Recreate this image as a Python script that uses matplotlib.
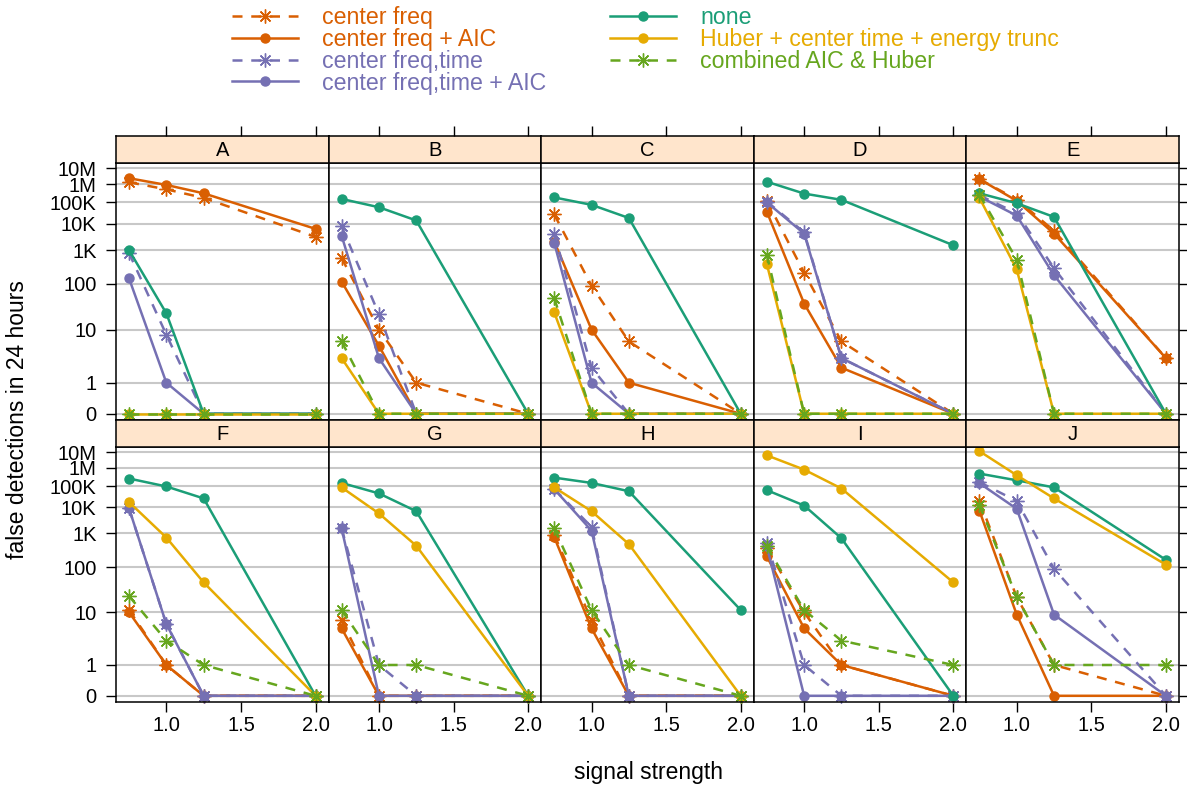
import numpy as np
import matplotlib
matplotlib.use("Agg")
import matplotlib.pyplot as plt
from matplotlib.lines import Line2D

plt.rcParams['font.family'] = ['Liberation Sans', 'DejaVu Sans']

# ---- data ----
panels = ["A", "B", "C", "D", "E", "F", "G", "H", "I", "J"]
strength = [0.75, 1.0, 1.25, 2.0]

center_freq = [
    [1.3e6, 5e5, 1.7e5, 3000], [550, 10, 1, 0], [2.6e4, 90, 6, 0], [1.2e5, 200, 6, 0],
    [2e6, 1.4e5, 5200, 3], [11, 1, 0, 0], [7, 0, 0, 0], [900, 7, 0, 0],
    [330, 10, 1, 0], [1.9e4, 20, 1, 0]]
center_freq_aic = [
    [2.3e6, 9e5, 3e5, 6200], [115, 5, 0, 0], [2000, 10, 1, 0], [3.5e4, 34, 2, 0],
    [2e6, 1.2e5, 4000, 3], [10, 1, 0, 0], [5, 0, 0, 0], [750, 5, 0, 0],
    [195, 5, 1, 0], [7200, 9, 0, 0]]
center_freq_time = [
    [800, 8, 0, 0], [7900, 20, 0, 0], [4000, 2, 0, 0], [1.1e5, 4500, 3, 0],
    [2.3e5, 3e4, 270, 0], [9000, 6, 0, 0], [1500, 1, 0, 0], [7e4, 1700, 0, 0],
    [500, 1, 0, 0], [1.6e5, 1.9e4, 90, 0]]
center_freq_time_aic = [
    [140, 1, 0, 0], [3300, 3, 0, 0], [1800, 1, 0, 0], [1e5, 4000, 3, 0],
    [2e5, 2.3e4, 170, 0], [9000, 6, 0, 0], [1500, 0, 0, 0], [7e4, 1260, 0, 0],
    [380, 0, 0, 0], [1.4e5, 8700, 9, 0]]
none = [
    [1000, 21, 0, 0], [1.5e5, 5.7e4, 1.4e4, 0], [1.8e5, 7.5e4, 1.8e4, 0],
    [1.4e6, 2.9e5, 1.35e5, 1480], [3e5, 9e4, 2e4, 0], [2.5e5, 9.5e4, 2.5e4, 0],
    [1.45e5, 4.3e4, 6900, 0], [2.8e5, 1.45e5, 5.5e4, 11], [6.2e4, 1.2e4, 690, 0],
    [4.7e5, 2e5, 8.5e4, 155]]
huber = [
    [0, 0, 0, 0], [3, 0, 0, 0], [22, 0, 0, 0], [360, 0, 0, 0], [1.7e5, 250, 0, 0],
    [1.7e4, 730, 42, 0], [8.5e4, 5600, 400, 0], [8.5e4, 6900, 450, 0],
    [6.3e6, 8e5, 7.5e4, 42], [1.2e7, 3.8e5, 2.5e4, 115]]
combined = [
    [0, 0, 0, 0], [6, 0, 0, 0], [45, 0, 0, 0], [700, 0, 0, 0], [2.5e5, 490, 0, 0],
    [21, 3, 1, 0], [11, 1, 1, 0], [1500, 11, 1, 0], [380, 11, 3, 1], [1.3e4, 20, 1, 1]]

ytick_vals = [0, 1, 10, 100, 1e3, 1e4, 1e5, 1e6, 1e7]
ytick_labels = ["0", "1", "10", "100", "1K", "10K", "100K", "1M", "10M"]
xtick_vals = [1.0, 1.5, 2.0]

# label, values, color, dashed w/ asterisk (else solid w/ dot)
series = [
    ("center freq", center_freq, "#D95F02", True),
    ("center freq + AIC", center_freq_aic, "#D95F02", False),
    ("center freq,time", center_freq_time, "#7570B3", True),
    ("center freq,time + AIC", center_freq_time_aic, "#7570B3", False),
    ("none", none, "#1B9E77", False),
    ("Huber + center time + energy trunc", huber, "#E6AB02", False),
    ("combined AIC & Huber", combined, "#66A61E", True),
]

# double log scale: log10(log10(x+1)+1)
def fwd(v):
    with np.errstate(all="ignore"):
        return np.log10(np.log10(np.asarray(v, float) + 1) + 1)

def inv(t):
    with np.errstate(all="ignore"):
        return 10 ** (10 ** np.asarray(t, float) - 1) - 1

W, H = 1187, 787
fig = plt.figure(figsize=(W / 100, H / 100), dpi=100)

col_left = [116, 328.6, 541.2, 753.8, 966.4]
col_w = 212.6
rows = [(163, 420, 136), (447, 702, 420)]  # axes top, axes bottom, strip top
strip_bg = "#FFE5CC"
grid_c = "#C8C8C8"
ylo, yhi = inv(-0.023), inv(0.923)
FS = 14.5

def style_kw(col, dashed):
    if dashed:
        return dict(color=col, lw=1.8, linestyle=(0, (4, 3.5)), marker=(8, 2, 0),
                    ms=10, mew=1.0)
    return dict(color=col, lw=1.8, linestyle="-", marker="o", ms=6.5)

for i, name in enumerate(panels):
    r, c = divmod(i, 5)
    top, bot, stop = rows[r]
    x0 = col_left[c]
    ax = fig.add_axes([x0 / W, 1 - bot / H, col_w / W, (bot - top) / H])
    ax.set_yscale("function", functions=(fwd, inv))
    ax.set_xlim(0.6625, 2.0875)
    ax.set_ylim(ylo, yhi)
    for yv in ytick_vals:
        ax.axhline(yv, color=grid_c, lw=1.5, zorder=0)
    for label, vals, col, dashed in series:
        ax.plot(strength, vals[i], zorder=2, clip_on=False, **style_kw(col, dashed))
    ax.set_yticks(ytick_vals)
    ax.set_yticklabels(ytick_labels)
    ax.yaxis.set_minor_locator(matplotlib.ticker.NullLocator())
    ax.set_xticks(xtick_vals)
    ax.set_xticklabels(["1.0", "1.5", "2.0"])
    ax.tick_params(direction="out", length=7, width=1, labelsize=FS, color="black")
    ax.tick_params(axis="y", left=(c == 0), labelleft=(c == 0),
                   right=(c == 4), labelright=False, pad=7)
    ax.tick_params(axis="x", bottom=(r == 1), labelbottom=(r == 1), top=False, pad=3)
    for s in ax.spines.values():
        s.set_linewidth(1.1)

    # strip
    sax = fig.add_axes([x0 / W, 1 - top / H, col_w / W, (top - stop) / H])
    sax.set_facecolor(strip_bg)
    sax.set_xlim(0.6625, 2.0875)
    sax.set_yticks([])
    sax.set_xticks(xtick_vals)
    sax.tick_params(axis="x", bottom=False, labelbottom=False,
                    top=(r == 0), labeltop=False, direction="out", length=7, width=1)
    for s in sax.spines.values():
        s.set_linewidth(1.1)
    sax.text(0.5, 0.45, name, transform=sax.transAxes, ha="center", va="center",
             fontsize=FS)

fig.text(18 / W, 1 - 420 / H, "false detections in 24 hours", rotation=90,
         ha="center", va="center", fontsize=16.5)
fig.text(648 / W, 1 - 772 / H, "signal strength", ha="center", va="center",
         fontsize=16.5)

handles = [Line2D([], [], label=label, **style_kw(col, dashed))
           for label, vals, col, dashed in series]

fig.legend(handles=handles, loc="upper left", bbox_to_anchor=(232 / W, 1 - 6 / H),
           ncol=2, frameon=False, fontsize=16.7, labelcolor="linecolor",
           handlelength=2.85, handletextpad=1.03, columnspacing=2.76,
           labelspacing=-0.05, numpoints=1, borderaxespad=0, borderpad=0)

fig.savefig("out.png", dpi=100)
